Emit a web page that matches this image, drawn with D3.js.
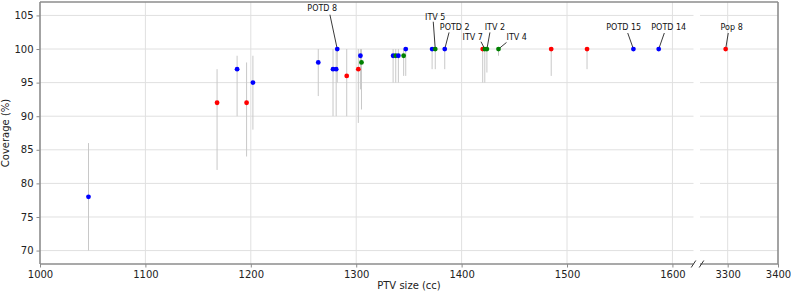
<!DOCTYPE html>
<html>
<head>
<meta charset="utf-8">
<script src="https://cdn.jsdelivr.net/npm/d3@7"></script>
<style>
  body { margin: 0; background: #fff; }
  svg { font-family: "DejaVu Sans", sans-serif; }
</style>
</head>
<body>
<svg width="791" height="294"></svg>
<script>
// data
var ptv      = [1046, 1168, 1187, 1196, 1202, 1264, 1278, 1281, 1282, 1291, 1302, 1304, 1305, 1335, 1337.5, 1340, 1345, 1347, 1372, 1375, 1384, 1420, 1422, 1424, 1435, 1485, 1519, 1563, 1587, 3296];
var coverage = [78, 92, 97, 92, 95, 98, 97, 97, 100, 96, 97, 99, 98, 99, 99, 99, 99, 100, 100, 100, 100, 100, 100, 100, 100, 100, 100, 100, 100, 100];
var lower    = [70, 82, 90, 84, 88, 93, 90, 90, 95, 90, 89, 94, 91, 95, 95, 95, 96, 96, 97, 97, 97, 95, 95, 96.5, 99, 96, 97, 100, 100, 100];
var upper    = [86, 97, 99, 98, 99, 100, 100, 100, 100, 100, 100, 100, 100, 100, 100, 100, 100, 100, 100, 100, 100, 100, 100, 100, 100, 100, 100, 100, 100, 100];
var group    = ["b", "r", "b", "r", "b", "b", "b", "b", "b", "r", "r", "b", "g", "b", "g", "b", "g", "b", "b", "g", "b", "r", "g", "g", "g", "r", "r", "b", "b", "r"];

var yTicks = [70, 75, 80, 85, 90, 95, 100, 105];
var xTicksLeft = [1000, 1100, 1200, 1300, 1400, 1500, 1600];
var xTicksRight = [3300, 3400];

// annotated points: index into the arrays above
var labels = [
  {name: "POTD 8",  i: 8,  tx: -15,  ty: -41,   lx: -7.3, ly: -34.3},
  {name: "ITV 5",   i: 19, tx: 0,    ty: -31.3, lx: -2,   ly: -27.3},
  {name: "POTD 2",  i: 20, tx: 10,   ty: -21.3, lx: 4.3,  ly: -16.6},
  {name: "ITV 7",   i: 22, tx: -12,  ty: -12,   lx: -3.8, ly: -7.3},
  {name: "ITV 2",   i: 23, tx: 8,    ty: -21.3, lx: 3,    ly: -16.6},
  {name: "ITV 4",   i: 24, tx: 18.2, ty: -12,   lx: 8,    ly: -6.6},
  {name: "POTD 15", i: 27, tx: -9.7, ty: -21.3, lx: -5.7, ly: -16},
  {name: "POTD 14", i: 28, tx: 10,   ty: -21.3, lx: 5.6,  ly: -16},
  {name: "Pop 8",   i: 29, tx: 6,    ty: -21.3, lx: 2.6,  ly: -16}
];

var colors = {b: "#0000ff", r: "#ff0000", g: "#008000"};

var data = ptv.map(function(v, i) {
  return {x: v, y: coverage[i], lo: lower[i], hi: upper[i], c: group[i]};
});

var svg = d3.select("svg");

var xl = d3.scaleLinear().domain([1000, 1620]).range([40, 693.5]);
var xr = d3.scaleLinear().domain([3245, 3400]).range([700, 778]);
var y = d3.scaleLinear().domain([68, 107]).range([264, 2]);

function xp(v) { return v > 2000 ? xr(v) : xl(v); }

var grid = svg.append("g").attr("stroke", "#e0e0e0").attr("stroke-width", 1);

// horizontal grid, one piece per panel
[[40, 693.5], [700, 778]].forEach(function(p) {
  grid.selectAll(null)
      .data(yTicks)
    .enter().append("line")
      .attr("x1", p[0]).attr("x2", p[1])
      .attr("y1", function(d) { return y(d); })
      .attr("y2", function(d) { return y(d); });
});

grid.selectAll(null)
    .data(xTicksLeft.slice(1))
  .enter().append("line")
    .attr("x1", function(d) { return xl(d); })
    .attr("x2", function(d) { return xl(d); })
    .attr("y1", 2).attr("y2", 264);

grid.append("line")
    .attr("x1", xr(3300)).attr("x2", xr(3300))
    .attr("y1", 2).attr("y2", 264);

// axes
var axisL = svg.append("g")
    .attr("class", "axis axis--x")
    .attr("transform", "translate(0,264)")
    .call(d3.axisBottom(xl).tickValues(xTicksLeft).tickSize(3.5).tickFormat(d3.format("d")));

var axisR = svg.append("g")
    .attr("class", "axis axis--x")
    .attr("transform", "translate(0,264)")
    .call(d3.axisBottom(xr).tickValues(xTicksRight).tickSize(3.5).tickFormat(d3.format("d")));

var axisY = svg.append("g")
    .attr("class", "axis axis--y")
    .attr("transform", "translate(40,0)")
    .call(d3.axisLeft(y).tickValues(yTicks).tickSize(3.5));

svg.selectAll(".axis .domain").remove();
svg.selectAll(".axis .tick line").attr("stroke", "#8c8c8c");
svg.selectAll(".axis text")
    .attr("fill", "#222")
    .style("font-size", "10px")
    .style("font-family", "DejaVu Sans");

// spines
var spine = svg.append("g").attr("stroke", "#8c8c8c").attr("stroke-width", 1.6).attr("fill", "none");
spine.append("line").attr("x1", 40).attr("x2", 40).attr("y1", 2).attr("y2", 264);
spine.append("line").attr("x1", 778).attr("x2", 778).attr("y1", 2).attr("y2", 264);
spine.append("line").attr("x1", 40).attr("x2", 778).attr("y1", 2).attr("y2", 2);
spine.append("line").attr("x1", 40).attr("x2", 693.5).attr("y1", 264).attr("y2", 264);
spine.append("line").attr("x1", 700).attr("x2", 778).attr("y1", 264).attr("y2", 264);

// break marks
svg.selectAll(".brk")
    .data([693.5, 701.5])
  .enter().append("line")
    .attr("class", "brk")
    .attr("x1", function(d) { return d - 2.3; })
    .attr("x2", function(d) { return d + 2.3; })
    .attr("y1", 267.5).attr("y2", 260.5)
    .attr("stroke", "#333").attr("stroke-width", 1);

// error bars
svg.append("g").selectAll("line")
    .data(data.filter(function(d) { return d.hi > d.lo; }))
  .enter().append("line")
    .attr("x1", function(d) { return xp(d.x); })
    .attr("x2", function(d) { return xp(d.x); })
    .attr("y1", function(d) { return y(d.hi); })
    .attr("y2", function(d) { return y(d.lo); })
    .attr("stroke", "#c8c8c8")
    .attr("stroke-width", 1);

// annotation leaders
var ann = svg.append("g");
ann.selectAll("line")
    .data(labels)
  .enter().append("line")
    .attr("x1", function(d) { return xp(ptv[d.i]) + d.lx; })
    .attr("y1", function(d) { return y(coverage[d.i]) + d.ly; })
    .attr("x2", function(d) { return xp(ptv[d.i]); })
    .attr("y2", function(d) { return y(coverage[d.i]); })
    .attr("stroke", "#222")
    .attr("stroke-width", 0.9);

// points
svg.append("g").selectAll("circle")
    .data(data)
  .enter().append("circle")
    .attr("cx", function(d) { return xp(d.x); })
    .attr("cy", function(d) { return y(d.y); })
    .attr("r", 2.4)
    .attr("fill", function(d) { return colors[d.c]; });

ann.selectAll("text")
    .data(labels)
  .enter().append("text")
    .attr("x", function(d) { return xp(ptv[d.i]) + d.tx; })
    .attr("y", function(d) { return y(coverage[d.i]) + d.ty; })
    .attr("text-anchor", "middle")
    .attr("dominant-baseline", "central")
    .style("font-size", "8px")
    .attr("fill", "#111")
    .text(function(d) { return d.name; });

// axis titles
svg.append("text")
    .attr("x", 409).attr("y", 289)
    .attr("text-anchor", "middle")
    .style("font-size", "10px")
    .attr("fill", "#222")
    .text("PTV size (cc)");

svg.append("text")
    .attr("transform", "translate(9,133) rotate(-90)")
    .attr("text-anchor", "middle")
    .style("font-size", "10px")
    .attr("fill", "#222")
    .text("Coverage (%)");
</script>
</body>
</html>
